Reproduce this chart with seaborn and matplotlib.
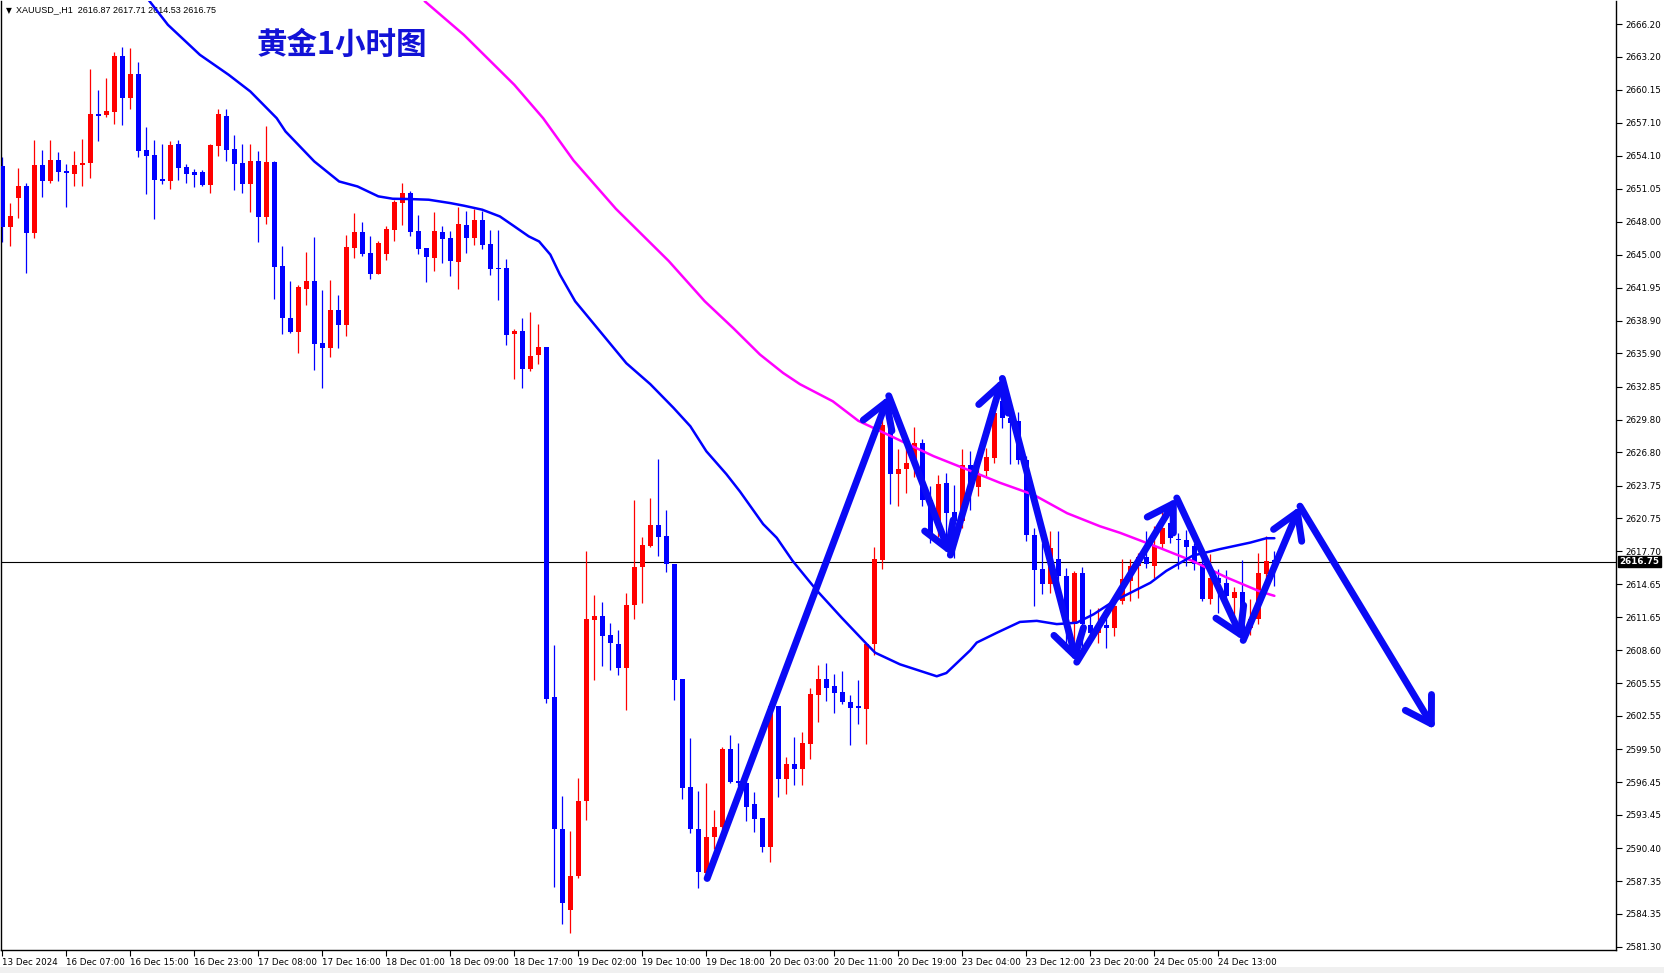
import numpy as np
import pandas as pd
import seaborn as sns
import matplotlib.pyplot as plt
from matplotlib.transforms import blended_transform_factory
from matplotlib.patches import Rectangle

# ---- candle data (H1, bar index 0..159) ----
opens = [2653.17, 2647.53, 2650.19, 2651.26, 2646.97, 2653.26, 2651.72, 2653.65, 2652.64, 2652.40,
         2653.22, 2653.41, 2657.97, 2657.79, 2658.10, 2663.30, 2659.38, 2661.65, 2654.57, 2654.11,
         2651.91, 2651.75, 2655.12, 2653.01, 2652.55, 2652.55, 2651.36, 2654.97, 2657.70, 2654.66,
         2653.38, 2651.48, 2653.56, 2648.44, 2653.47, 2643.91, 2639.13, 2637.84, 2641.83, 2642.53,
         2636.83, 2636.40, 2639.86, 2638.52, 2645.60, 2647.03, 2645.10, 2643.20, 2645.04, 2647.25,
         2649.73, 2650.68, 2647.13, 2645.56, 2644.68, 2647.03, 2646.48, 2644.31, 2647.68, 2646.51,
         2648.14, 2645.93, 2643.70, 2643.72, 2637.69, 2637.95, 2634.50, 2635.74, 2636.45, 2604.31,
         2592.12, 2584.73, 2587.80, 2594.74, 2611.40, 2611.70, 2610.04, 2609.15, 2606.93, 2612.75,
         2616.23, 2618.19, 2620.10, 2619.09, 2616.50, 2605.96, 2596.05, 2592.12, 2588.06, 2591.43,
         2592.29, 2599.49, 2596.57, 2596.42, 2594.43, 2593.14, 2590.45, 2603.47, 2596.73, 2598.11,
         2597.65, 2600.01, 2604.45, 2605.92, 2605.31, 2604.72, 2603.87, 2603.38, 2603.22, 2609.14,
         2616.89, 2629.82, 2624.82, 2625.31, 2625.83, 2627.67, 2622.46, 2619.86, 2623.99, 2621.30,
         2620.47, 2625.68, 2623.60, 2625.07, 2626.30, 2631.50, 2629.97, 2629.67, 2626.14, 2619.16,
         2616.03, 2614.71, 2616.95, 2615.42, 2610.98, 2615.70, 2610.88, 2610.15, 2610.88, 2610.67,
         2613.12, 2614.96, 2616.34, 2617.17, 2616.34, 2618.33, 2620.32, 2618.80, 2618.70, 2618.18,
         2616.50, 2613.27, 2615.20, 2614.80, 2613.43, 2613.95, 2610.67, 2611.43, 2615.63, 2616.87]
highs = [2654.00, 2649.70, 2652.95, 2651.54, 2655.49, 2654.57, 2655.49, 2654.39, 2653.32, 2654.48,
         2655.61, 2662.02, 2660.09, 2661.28, 2663.67, 2664.13, 2664.04, 2662.75, 2656.69, 2655.49,
         2655.15, 2655.40, 2655.49, 2653.32, 2652.86, 2652.76, 2655.21, 2658.43, 2658.34, 2655.95,
         2655.12, 2655.21, 2654.48, 2656.80, 2653.60, 2645.75, 2642.53, 2642.22, 2645.23, 2646.57,
         2641.70, 2642.62, 2641.24, 2646.76, 2648.78, 2647.95, 2646.67, 2646.21, 2647.58, 2649.98,
         2651.54, 2650.80, 2648.63, 2645.56, 2648.87, 2647.58, 2647.13, 2649.33, 2648.96, 2649.15,
         2648.96, 2647.22, 2647.22, 2644.55, 2638.14, 2639.19, 2639.75, 2638.63, 2636.45, 2609.07,
         2595.19, 2592.00, 2596.88, 2617.73, 2613.68, 2613.01, 2611.06, 2610.50, 2613.87, 2622.39,
         2619.01, 2622.57, 2626.17, 2621.49, 2616.50, 2605.96, 2600.55, 2595.68, 2596.42, 2593.91,
         2599.70, 2600.80, 2600.10, 2596.57, 2595.56, 2593.14, 2603.62, 2603.47, 2598.78, 2600.62,
         2601.08, 2605.15, 2607.24, 2607.39, 2606.38, 2606.69, 2604.45, 2605.83, 2609.14, 2618.08,
         2630.80, 2630.60, 2627.15, 2627.67, 2629.11, 2628.00, 2623.70, 2624.70, 2624.90, 2623.84,
         2627.15, 2626.91, 2625.50, 2627.21, 2631.50, 2632.50, 2630.40, 2630.50, 2626.50, 2619.86,
         2618.48, 2619.55, 2619.61, 2616.12, 2615.88, 2616.25, 2612.36, 2612.50, 2611.90, 2613.12,
         2616.95, 2616.95, 2617.56, 2619.60, 2620.00, 2621.50, 2620.90, 2619.40, 2619.70, 2618.50,
         2617.10, 2617.47, 2616.03, 2616.00, 2614.40, 2616.90, 2613.27, 2617.56, 2619.10, 2617.71]
lows = [2646.15, 2645.78, 2648.35, 2643.30, 2646.52, 2650.28, 2651.57, 2651.72, 2649.36, 2651.33,
        2651.26, 2652.03, 2655.40, 2657.61, 2656.99, 2656.87, 2658.37, 2653.93, 2650.56, 2648.26,
        2651.48, 2651.02, 2651.85, 2651.57, 2651.20, 2651.29, 2650.65, 2654.02, 2653.56, 2650.93,
        2650.65, 2648.90, 2646.15, 2647.80, 2640.90, 2637.69, 2637.78, 2635.94, 2640.32, 2634.35,
        2632.73, 2635.58, 2636.40, 2637.48, 2644.68, 2644.86, 2642.75, 2643.20, 2644.49, 2646.24,
        2647.71, 2646.70, 2645.04, 2642.47, 2643.45, 2644.22, 2643.02, 2641.83, 2645.13, 2645.87,
        2645.47, 2643.11, 2640.81, 2636.68, 2633.56, 2632.74, 2634.31, 2634.95, 2603.74, 2586.86,
        2583.38, 2582.60, 2587.62, 2592.94, 2605.88, 2607.19, 2606.74, 2606.29, 2603.11, 2611.43,
        2612.93, 2618.07, 2617.28, 2615.82, 2604.04, 2594.93, 2591.74, 2586.68, 2587.62, 2590.30,
        2591.52, 2596.42, 2596.12, 2592.90, 2591.89, 2590.08, 2589.16, 2595.14, 2595.35, 2596.21,
        2596.18, 2598.57, 2602.03, 2603.93, 2602.86, 2603.68, 2599.85, 2601.84, 2600.01, 2608.13,
        2616.09, 2622.07, 2621.88, 2623.08, 2624.50, 2621.85, 2618.50, 2619.00, 2618.00, 2617.10,
        2619.80, 2621.50, 2622.80, 2624.60, 2625.80, 2629.00, 2625.74, 2625.70, 2618.64, 2612.66,
        2613.73, 2613.90, 2614.00, 2608.50, 2609.00, 2608.50, 2609.50, 2609.30, 2608.83, 2609.90,
        2612.82, 2613.12, 2613.40, 2616.20, 2615.27, 2617.90, 2618.50, 2616.03, 2616.30, 2616.00,
        2613.10, 2612.82, 2612.05, 2612.40, 2611.50, 2609.50, 2610.00, 2611.00, 2614.50, 2614.53]
closes = [2647.52, 2648.51, 2651.26, 2646.97, 2653.26, 2651.72, 2653.65, 2652.58, 2652.46, 2653.26,
          2653.46, 2657.97, 2657.73, 2658.16, 2663.30, 2659.38, 2661.65, 2654.54, 2654.05, 2651.85,
          2651.75, 2655.03, 2652.95, 2652.40, 2652.31, 2651.36, 2655.03, 2657.88, 2654.60, 2653.32,
          2651.48, 2653.56, 2648.45, 2653.47, 2643.82, 2639.16, 2637.84, 2641.98, 2642.53, 2636.77,
          2636.40, 2639.86, 2638.52, 2645.66, 2647.03, 2645.04, 2643.20, 2646.02, 2647.31, 2649.79,
          2650.68, 2647.06, 2645.50, 2644.77, 2647.13, 2646.42, 2644.40, 2647.77, 2646.51, 2648.14,
          2645.87, 2643.66, 2643.66, 2637.60, 2637.95, 2634.50, 2635.70, 2636.45, 2604.12, 2592.12,
          2585.36, 2587.80, 2594.74, 2611.51, 2611.70, 2609.93, 2609.26, 2606.93, 2612.75, 2616.23,
          2618.26, 2620.10, 2619.01, 2616.50, 2605.88, 2595.94, 2592.12, 2588.18, 2591.43, 2592.35,
          2599.55, 2596.48, 2596.42, 2594.22, 2593.11, 2590.45, 2603.47, 2596.73, 2598.11, 2597.71,
          2600.07, 2604.54, 2605.92, 2605.15, 2604.63, 2603.87, 2603.32, 2603.32, 2609.14, 2616.95,
          2629.36, 2624.82, 2625.31, 2625.83, 2627.67, 2622.46, 2619.00, 2623.90, 2621.24, 2620.47,
          2625.68, 2623.60, 2624.76, 2626.36, 2630.43, 2629.97, 2629.50, 2626.14, 2619.16, 2615.94,
          2614.71, 2618.00, 2615.42, 2610.98, 2615.70, 2610.98, 2610.21, 2610.82, 2610.67, 2612.66,
          2615.11, 2616.34, 2617.17, 2616.50, 2618.18, 2619.86, 2618.94, 2618.76, 2618.10, 2616.50,
          2613.27, 2615.27, 2614.80, 2613.58, 2613.95, 2609.75, 2611.43, 2615.72, 2616.80, 2616.75]

# moving averages (bar index, price)
ma_blue_x = [18.2, 20.7, 24.7, 28.3, 31.0, 34.3, 35.4, 39.0, 42.1, 44.4, 47.0, 48.8, 51.0, 53.3, 56.0,
             57.7, 60.0, 62.2, 64.0, 65.8, 67.1, 68.5, 69.7, 71.6, 74.7, 78.0, 81.0, 83.9, 86.0, 88.0,
             90.5, 92.2, 95.1, 96.8, 98.8, 101.8, 104.9, 108.0, 109.1, 112.2, 116.8, 118.0, 121.0,
             121.8, 124.3, 127.2, 129.3, 131.8, 134.3, 136.4, 138.9, 143.5, 145.5, 148.8, 152.2,
             156.0, 158.0, 159.0]
ma_blue_y = [2668.5, 2666.13, 2663.37, 2661.53, 2660.0, 2657.54, 2656.32, 2653.56, 2651.72, 2651.26,
             2650.35, 2650.13, 2650.1, 2650.04, 2649.73, 2649.49, 2649.12, 2648.5, 2647.59, 2646.67,
             2646.2, 2644.99, 2643.15, 2640.7, 2637.94, 2635.0, 2633.07, 2630.89, 2629.2, 2626.9,
             2624.8, 2623.2, 2620.2, 2618.94, 2616.8, 2614.1, 2611.6, 2609.2, 2608.37, 2607.3, 2606.2,
             2606.5, 2608.6, 2609.3, 2610.2, 2611.2, 2611.3, 2611.0, 2611.13, 2611.9, 2613.1, 2614.8,
             2615.9, 2617.3, 2617.9, 2618.5, 2618.9, 2618.9]
ma_pink_x = [52.8, 57.7, 64.0, 67.6, 71.4, 76.7, 83.3, 87.8, 91.4, 94.7, 97.6, 99.7, 103.8, 107.0,
             112.2, 116.4, 121.0, 124.7, 128.9, 133.1, 137.2, 139.7, 144.7, 148.8, 153.0, 157.2, 159.0]
ma_pink_y = [2668.3, 2665.2, 2660.61, 2657.54, 2653.65, 2649.2, 2644.4, 2640.7, 2638.2, 2635.8,
             2634.1, 2633.07, 2631.5, 2629.7, 2627.9, 2626.45, 2625.1, 2624.0, 2622.9, 2621.2, 2620.0,
             2619.4, 2618.0, 2616.8, 2615.3, 2614.0, 2613.6]

# hand-drawn zigzag arrows (bar index, price)
arrow_x = [88.1, 110.8, 118.5, 125.0, 134.3, 146.8, 155.1, 162.2, 179.05]
arrow_y = [2587.6, 2632.0, 2617.35, 2633.6, 2607.5, 2622.6, 2609.5, 2621.85, 2601.3]

price_labels = ["2666.20", "2663.20", "2660.15", "2657.10", "2654.10", "2651.05", "2648.00",
                "2645.00", "2641.95", "2638.90", "2635.90", "2632.85", "2629.80", "2626.80",
                "2623.75", "2620.75", "2617.70", "2614.65", "2611.65", "2608.60", "2605.55",
                "2602.55", "2599.50", "2596.45", "2593.45", "2590.40", "2587.35", "2584.35",
                "2581.30"]
time_labels = ["13 Dec 2024", "16 Dec 07:00", "16 Dec 15:00", "16 Dec 23:00", "17 Dec 08:00",
               "17 Dec 16:00", "18 Dec 01:00", "18 Dec 09:00", "18 Dec 17:00", "19 Dec 02:00",
               "19 Dec 10:00", "19 Dec 18:00", "20 Dec 03:00", "20 Dec 11:00", "20 Dec 19:00",
               "23 Dec 04:00", "23 Dec 12:00", "23 Dec 20:00", "24 Dec 05:00", "24 Dec 13:00"]
time_ticks = [8 * i for i in range(len(time_labels))]
last_price = 2616.75
header = "XAUUSD_,H1  2616.87 2617.71 2614.53 2616.75"
title = "黄金1小时图"

df = pd.DataFrame({"o": opens, "h": highs, "l": lows, "c": closes})
df["bar"] = np.arange(len(df))
df["col"] = np.where(df["c"] >= df["o"], "#ff0000", "#0000ff")

sns.set_style("white")
plt.rcParams["font.family"] = ["DejaVu Sans", "Noto Sans CJK SC"]

fig = plt.figure(figsize=(16.64, 9.73), dpi=100)
ax = fig.add_axes([1 / 1664, 23 / 973, 1615 / 1664, 949 / 973])

# candles
ax.vlines(df["bar"], df["l"], df["h"], colors=df["col"], lw=0.9, zorder=2)
body_h = np.maximum((df["c"] - df["o"]).abs(), 0.1)
ax.bar(df["bar"], body_h, bottom=np.minimum(df["o"], df["c"]), width=0.62,
       color=df["col"], linewidth=0, zorder=3)

# moving averages
sns.lineplot(x=ma_pink_x, y=ma_pink_y, ax=ax, color="#ff00ff", lw=1.8, estimator=None, sort=False, zorder=4)
sns.lineplot(x=ma_blue_x, y=ma_blue_y, ax=ax, color="#0000ff", lw=1.8, estimator=None, sort=False, zorder=4)

# current price line
ax.axhline(last_price, color="black", lw=0.8, zorder=1)

# zigzag arrows
for i in range(len(arrow_x) - 1):
    ax.annotate("", xy=(arrow_x[i + 1], arrow_y[i + 1]), xytext=(arrow_x[i], arrow_y[i]),
                arrowprops=dict(arrowstyle="->,head_length=0.9,head_width=0.55", lw=5,
                                color="#0a0af5", shrinkA=0, shrinkB=0, mutation_scale=20),
                zorder=6)

ax.set_xlim(-0.16, 201.7)
ax.set_ylim(2581.02, 2668.32)

ax.yaxis.tick_right()
ax.set_yticks([float(v) for v in price_labels])
ax.set_yticklabels(price_labels)
ax.set_xticks(time_ticks)
ax.set_xticklabels(time_labels)
for lab in ax.get_xticklabels():
    lab.set_horizontalalignment("left")
ax.tick_params(axis="x", direction="out", length=4, width=0.8, labelsize=6.3, pad=2,
               bottom=True, colors="black")
ax.tick_params(axis="y", direction="out", length=4, width=0.8, labelsize=6.3, pad=3,
               right=True, left=False, colors="black")
ax.set_xlabel("")
ax.set_ylabel("")
for side in ["left", "right", "bottom"]:
    ax.spines[side].set_visible(True)
    ax.spines[side].set_color("black")
    ax.spines[side].set_linewidth(1.0)
ax.spines["top"].set_visible(False)

# current price tag
trans = blended_transform_factory(ax.transAxes, ax.transData)
ax.text(1.002, last_price, "2616.75", transform=trans, ha="left", va="center", fontsize=6.3,
        color="white", fontweight="bold",
        bbox=dict(boxstyle="square,pad=0.15", fc="black", ec="black"), clip_on=False, zorder=7)

# header and title
ax.text(0.003, 0.995, "▼", transform=ax.transAxes, ha="left", va="top", fontsize=5.5, color="black")
ax.text(0.0095, 0.996, header, transform=ax.transAxes, ha="left", va="top", fontsize=6.5,
        color="black", family="Liberation Sans")
fig.text(257 / 1664, 1 - 44.5 / 973, title, ha="left", va="center", fontsize=22,
         color="#1212d6", fontweight="bold", family=["Noto Sans CJK SC", "DejaVu Sans"])

fig.patches.append(Rectangle((0, 0), 1, 6 / 973, transform=fig.transFigure,
                             facecolor="#f0f0f0", edgecolor="none"))

fig.savefig("out.png", dpi=100)
